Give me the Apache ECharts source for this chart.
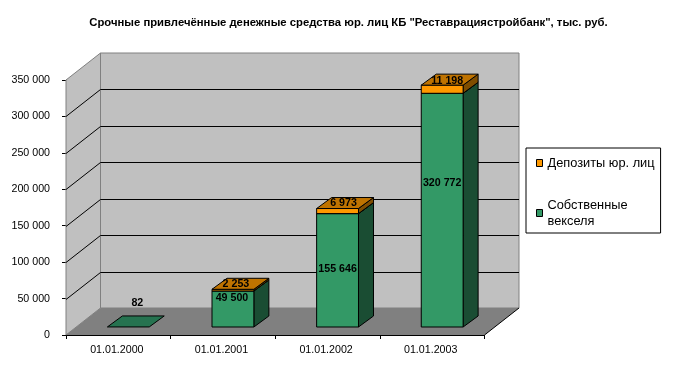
<!DOCTYPE html>
<html>
<head>
<meta charset="utf-8">
<style>
  html, body { margin: 0; padding: 0; background: #fff; }
  #chart { width: 681px; height: 378px; }
</style>
</head>
<body>
<div id="chart"></div>
<script src="https://cdn.jsdelivr.net/npm/echarts@6/dist/echarts.min.js"></script>
<script>
const titleText = 'Срочные привлечённые денежные средства юр. лиц КБ "Реставрациястройбанк", тыс. руб.'
const categories = ['01.01.2000', '01.01.2001', '01.01.2002', '01.01.2003']
const bills = [82, 49500, 155646, 320772]
const deposits = [null, 2253, 6973, 11198]
const billsName = 'Собственные векселя'
const depositsName = 'Депозиты юр. лиц'
const yTicks = [0, 50000, 100000, 150000, 200000, 250000, 300000, 350000]

// the "3D" look: how far the walls and bars are pushed back, in px
const wallDepth = [34.5, -27]
const barDepth = [15, -11]
const barShift = [10, -8]
// labels were moved by hand in the original, offsets from the front top centre of the segment
const billLabelNudge = [[9, -24], [-1, 7], [0, 55], [0, 90]]
const depositLabelNudge = [null, [3, -5], [6, -5], [5, -4]]

const fontFamily = 'Liberation Sans, Arial, sans-serif'

function fmt(v) {
  return String(v).replace(/\B(?=(\d{3})+$)/g, ' ')
}

function poly(points, fill, stroke) {
  return {
    type: 'polygon',
    shape: { points: points },
    style: { fill: fill, stroke: stroke || null, lineWidth: 1 }
  }
}

function shift(p, d) {
  return [p[0] + d[0], p[1] + d[1]]
}

function line(a, b, color) {
  return {
    type: 'line',
    shape: { x1: a[0], y1: a[1], x2: b[0], y2: b[1] },
    style: { stroke: color, lineWidth: 1 }
  }
}

function renderWalls(params, api) {
  const band = api.size([1, 0])[0]
  const p0 = api.coord([0, 0])
  const left = p0[0] - band / 2
  const right = left + band * categories.length
  const bottom = p0[1]
  const top = api.coord([0, yTicks[yTicks.length - 1]])[1]
  const d = wallDepth
  const children = [
    poly([[left + d[0], top + d[1]], [right + d[0], top + d[1]], [right + d[0], bottom + d[1]], [left + d[0], bottom + d[1]]], '#C0C0C0', '#808080'),
    poly([[left, top], [left + d[0], top + d[1]], [left + d[0], bottom + d[1]], [left, bottom]], '#C0C0C0', '#808080'),
    poly([[left, bottom], [left + d[0], bottom + d[1]], [right + d[0], bottom + d[1]], [right, bottom]], '#808080', null),
    line([right, bottom], [right + d[0], bottom + d[1]], '#000')
  ]
  yTicks.slice(1, -1).forEach(function(t) {
    const y = Math.round(api.coord([0, t])[1]) + 0.5
    children.push(line([left, y], [left + d[0], y + d[1]], '#000'))
    children.push(line([left + d[0], y + d[1]], [right + d[0], y + d[1]], '#000'))
  })
  return { type: 'group', children: children }
}

function box(api, idx, from, to, colors, text, nudge) {
  const band = api.size([1, 0])[0]
  const w = band * 0.4
  const c = api.coord([idx, from])
  const t = api.coord([idx, to])
  const x0 = c[0] + barShift[0] - w / 2
  const x1 = x0 + w
  const y0 = c[1] + barShift[1]
  const y1 = t[1] + barShift[1]
  const d = barDepth
  const stroke = '#000'
  const children = []
  if (y0 - y1 > 0.5) {
    children.push(poly([[x1, y1], shift([x1, y1], d), shift([x1, y0], d), [x1, y0]], colors.side, stroke))
    children.push(poly([[x0, y1], [x1, y1], [x1, y0], [x0, y0]], colors.front, stroke))
  }
  children.push(poly([[x0, y1], [x1, y1], shift([x1, y1], d), shift([x0, y1], d)], colors.top, stroke))
  if (nudge) {
    children.push({
      type: 'text',
      z2: 10,
      style: {
        x: (x0 + x1) / 2 + nudge[0],
        y: y1 + nudge[1],
        text: text,
        align: 'center',
        verticalAlign: 'middle',
        fill: '#000',
        font: 'bold 10.67px ' + fontFamily
      }
    })
  }
  return { type: 'group', children: children }
}

function renderBills(params, api) {
  const idx = api.value(0)
  return box(api, idx, 0, api.value(1), { front: '#339966', side: '#1A4D33', top: '#267350' },
    fmt(api.value(1)), billLabelNudge[idx])
}

function renderDeposits(params, api) {
  const idx = api.value(0)
  return box(api, idx, api.value(2), api.value(2) + api.value(1), { front: '#FF9900', side: '#7F4D00', top: '#BF7300' },
    fmt(api.value(1)), depositLabelNudge[idx])
}

const chart = echarts.init(document.getElementById('chart'), null, { renderer: 'canvas' })
chart.setOption({
  animation: false,
  backgroundColor: '#fff',
  title: {
    text: titleText,
    left: 348.5,
    top: 17,
    padding: [0, 0, 0, 0],
    textAlign: 'center',
    textStyle: { fontFamily: fontFamily, fontSize: 11.3, fontWeight: 'bold', color: '#000' }
  },
  grid: { left: 66, right: 196.5, top: 80, bottom: 43 },
  legend: {
    orient: 'vertical',
    left: 526,
    top: 148,
    padding: [7, 6, -4, 10],
    itemGap: 18,
    itemWidth: 6,
    itemHeight: 7,
    borderColor: '#000',
    borderWidth: 1,
    backgroundColor: '#fff',
    selectedMode: false,
    formatter: function(name) {
      return name.replace(' в', '\nв')
    },
    textStyle: { fontFamily: fontFamily, fontSize: 12.8, color: '#000', lineHeight: 16 },
    data: [
      { name: depositsName, icon: 'rect', itemStyle: { color: '#FF9900', borderColor: '#000', borderWidth: 1 } },
      { name: billsName, icon: 'rect', itemStyle: { color: '#339966', borderColor: '#000', borderWidth: 1 }, textStyle: { padding: [16, 0, 0, 0] } }
    ]
  },
  xAxis: {
    type: 'category',
    data: categories,
    boundaryGap: true,
    axisLine: { show: true, lineStyle: { color: '#000' } },
    axisTick: { show: true, alignWithLabel: false, length: 4, lineStyle: { color: '#000' } },
    axisLabel: { fontFamily: fontFamily, fontSize: 10.67, color: '#000', margin: 10, interval: 0, padding: [0, 3, 0, 0] },
    splitLine: { show: false }
  },
  yAxis: {
    type: 'value',
    min: 0,
    max: 350000,
    interval: 50000,
    axisLine: { show: true, lineStyle: { color: '#000' } },
    axisTick: { show: true, length: 4, lineStyle: { color: '#000' } },
    axisLabel: { fontFamily: fontFamily, fontSize: 10.67, color: '#000', margin: 16, formatter: fmt },
    splitLine: { show: false }
  },
  series: [
    {
      type: 'custom',
      name: 'walls',
      z: 1,
      silent: true,
      renderItem: renderWalls,
      data: [[0, 0]],
      encode: { x: 0, y: 1 }
    },
    {
      type: 'custom',
      name: billsName,
      z: 2,
      renderItem: renderBills,
      data: bills.map(function(v, i) { return [i, v] }),
      encode: { x: 0, y: 1 }
    },
    {
      type: 'custom',
      name: depositsName,
      z: 3,
      renderItem: renderDeposits,
      data: deposits.map(function(v, i) { return [i, v, bills[i]] }).filter(function(d) { return d[1] !== null }),
      encode: { x: 0, y: 1 }
    }
  ]
})
</script>
</body>
</html>
